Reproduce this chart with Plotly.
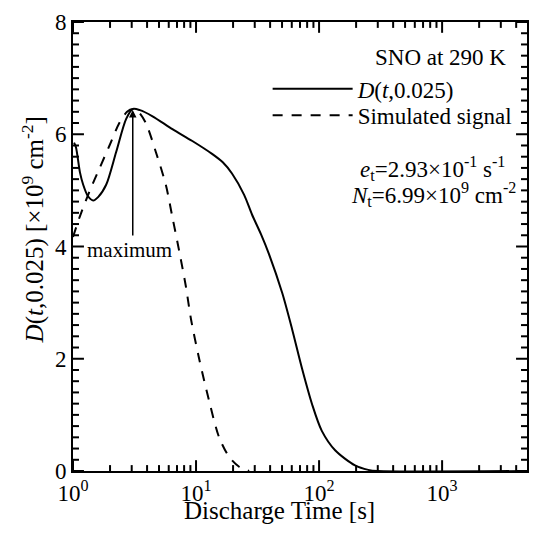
import numpy as np
import plotly.graph_objects as go

# ---- data ----
t_d = [1.02, 1.057, 1.139, 1.21, 1.32, 1.46, 1.6, 1.86, 2.24, 2.7, 3.06, 3.5,
       4.43, 6.43, 9.33, 13.5, 16.5, 19.6, 24.6, 28.5, 33.7, 39.1, 50.2, 60.3,
       72.6, 87.7, 105, 135, 196, 251, 300, 5000]
d_val = [5.85, 5.77, 5.32, 5.10, 4.90, 4.82, 4.88, 5.10, 5.68, 6.27, 6.45, 6.43,
         6.32, 6.09, 5.88, 5.65, 5.50, 5.30, 4.92, 4.57, 4.22, 3.87, 3.17, 2.53,
         1.83, 1.19, 0.72, 0.37, 0.10, 0.02, 0.0, 0.0]

t_s = [1.0, 1.13, 1.36, 1.64, 1.98, 2.38, 2.75, 3.06, 3.4, 3.91, 4.72, 5.68,
       6.43, 7.28, 8.25, 9.11, 10.6, 12.8, 15.4, 18.6, 22.4, 27.0]
s_val = [4.17, 4.52, 4.98, 5.39, 5.80, 6.20, 6.40, 6.45, 6.40, 6.20, 5.68, 5.10,
         4.52, 3.93, 3.30, 2.70, 2.00, 1.24, 0.60, 0.25, 0.075, 0.0]

x_tickvals = [1, 10, 100, 1000]
x_ticktext = ["10<sup>0</sup>", "10<sup>1</sup>", "10<sup>2</sup>", "10<sup>3</sup>"]
y_tickvals = [0, 2, 4, 6, 8]

peak_t, peak_v = 3.06, 6.45

FONT = "Liberation Serif"
X_RANGE = [0, 3.69]
Y_RANGE = [0, 8]
W, H = 539, 546
M = dict(l=73, r=10, t=14, b=75)
PW, PH = W - M["l"] - M["r"], H - M["t"] - M["b"]
MAJ, MIN = 11, 6  # tick lengths in px

x_minor = [m * 10 ** k for k in range(4) for m in range(2, 10)
           if np.log10(m * 10 ** k) < X_RANGE[1]]
y_minor = [round(0.2 * i, 1) for i in range(41) if round(0.2 * i, 1) not in y_tickvals]

fig = go.Figure()
fig.add_trace(go.Scatter(
    x=t_d, y=d_val, mode="lines", name="<i>D</i>(<i>t</i>,0.025)",
    line=dict(color="black", width=2, shape="spline", smoothing=0.8),
    legend="legend",
))
fig.add_trace(go.Scatter(
    x=t_s, y=s_val, mode="lines", name="Simulated signal",
    line=dict(color="black", width=2, dash="10px,9px", shape="spline", smoothing=0.8),
    legend="legend2",
))

axis_common = dict(
    showline=True, linecolor="black", linewidth=2, mirror=True,
    ticks="", showgrid=False, zeroline=False,
    tickfont=dict(family=FONT, size=23, color="black"),
)
fig.update_xaxes(type="log", range=X_RANGE, tickmode="array",
                 tickvals=x_tickvals, ticktext=x_ticktext, **axis_common)
fig.update_yaxes(range=Y_RANGE, tickmode="array", tickvals=y_tickvals, **axis_common)

# inside tick marks on all four sides
shapes = []
tick_line = dict(color="black", width=2)
for vals, ln in ((x_tickvals, MAJ), (x_minor, MIN)):
    for v in vals:
        px = (np.log10(v) - X_RANGE[0]) / (X_RANGE[1] - X_RANGE[0])
        for y0, y1 in ((0, ln / PH), (1, 1 - ln / PH)):
            shapes.append(dict(type="line", xref="paper", yref="paper",
                               x0=px, x1=px, y0=y0, y1=y1, line=tick_line,
                               layer="above"))
for vals, ln in ((y_tickvals, MAJ), (y_minor, MIN)):
    for v in vals:
        for x0, x1 in ((0, ln / PW), (1, 1 - ln / PW)):
            shapes.append(dict(type="line", xref="paper", yref="y",
                               x0=x0, x1=x1, y0=v, y1=v, line=tick_line,
                               layer="above"))

txt_font = dict(family=FONT, size=23, color="black")
annots = [
    dict(text="Discharge Time [s]", xref="paper", yref="paper",
         x=0.454, y=-0.088, xanchor="center", yanchor="middle",
         showarrow=False, font=dict(family=FONT, size=25, color="black")),
    dict(text="<i>D</i>(<i>t</i>,0.025) [×10<sup>9</sup> cm<sup>-2</sup>]",
         xref="paper", yref="paper", x=-0.088, y=0.536, textangle=-90,
         xanchor="center", yanchor="middle",
         showarrow=False, font=dict(family=FONT, size=25, color="black")),
    dict(text="SNO at 290 K", xref="paper", yref="paper",
         x=0.958, y=0.921, xanchor="right", yanchor="middle",
         showarrow=False, font=txt_font),
    dict(text="<i>e</i><sub>t</sub>=2.93×10<sup>-1</sup> s<sup>-1</sup>",
         xref="paper", yref="paper", x=0.791, y=0.674,
         xanchor="center", yanchor="middle",
         showarrow=False, font=txt_font),
    dict(text="<i>N</i><sub>t</sub>=6.99×10<sup>9</sup> cm<sup>-2</sup>",
         xref="paper", yref="paper", x=0.793, y=0.615,
         xanchor="center", yanchor="middle",
         showarrow=False, font=txt_font),
    # arrow pointing to the maximum
    dict(text="", x=np.log10(peak_t), y=peak_v, xref="x", yref="y",
         showarrow=True, ax=0, ay=128, arrowhead=2, arrowsize=1,
         arrowwidth=1.5, arrowcolor="black", standoff=1),
    # label of the arrow
    dict(text="maximum", x=np.log10(peak_t), y=peak_v, xref="x", yref="y",
         showarrow=False, xshift=-3, yshift=-141,
         xanchor="center", yanchor="middle",
         font=dict(family=FONT, size=21, color="black")),
]

leg_common = dict(xanchor="left", yanchor="top", bgcolor="rgba(0,0,0,0)",
                  itemwidth=80, font=txt_font)

fig.update_layout(
    width=W, height=H,
    margin=M,
    paper_bgcolor="white", plot_bgcolor="white",
    showlegend=True,
    legend=dict(x=0.4287, y=0.899, **leg_common),
    legend2=dict(x=0.4287, y=0.840, **leg_common),
    annotations=annots,
    shapes=shapes,
)

fig.write_html("out.html")
